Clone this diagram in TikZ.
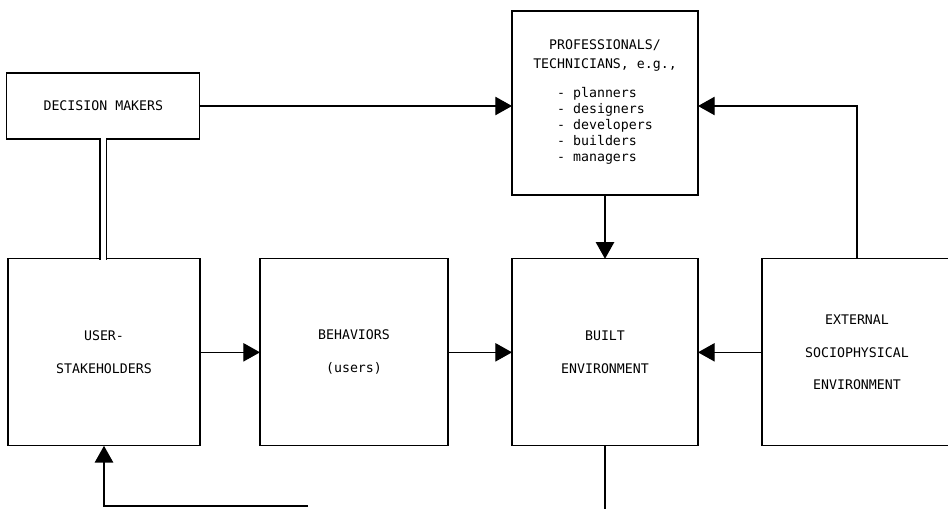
\documentclass[tikz,border=0pt]{standalone}
\usepackage{fontspec}
\setmonofont{DejaVu Sans Mono}
\usetikzlibrary{arrows.meta}

\begin{document}
\begin{tikzpicture}[
    b/.style={draw, line width=1.1pt, inner sep=0pt, outer sep=0pt, align=center,
              minimum height=5.61cm, font=\ttfamily\fontsize{11.3}{28}\selectfont},
    a/.style={-{Triangle[length=0.5cm,width=0.55cm]}, line width=1.1pt}]
    \useasboundingbox (0,0) rectangle (28.44,15.24);
    \node[b, minimum width=5.79cm, minimum height=1.98cm] (dm) at (3.1,12.06) {DECISION MAKERS};
    \node[b, minimum width=5.58cm, minimum height=5.52cm,
          font=\ttfamily\fontsize{11.3}{16}\selectfont] (prof) at (18.15,12.15)
          {PROFESSIONALS/\\TECHNICIANS, e.g.,\\[12pt]
           \fontsize{11.3}{13.6}\selectfont\begin{tabular}{@{}l@{}}- planners\\- designers\\- developers\\- builders\\- managers\end{tabular}};
    \node[b, minimum width=5.76cm] (user)  at (3.12,4.67)  {USER-\\STAKEHOLDERS};
    \node[b, minimum width=5.64cm] (beh)   at (10.62,4.67) {BEHAVIORS\\(users)};
    \node[b, minimum width=5.58cm] (built) at (18.15,4.67) {BUILT\\ENVIRONMENT};
    \node[b, minimum width=5.70cm] (ext)   at (25.71,4.67) {EXTERNAL\\SOCIOPHYSICAL\\ENVIRONMENT};
    \coordinate (fb) at (9.24,0.06);
    \draw[line width=1.1pt, double, double distance=0.17cm, shorten <=-1pt, shorten >=-1pt]
        (dm.south) -- (dm.south |- user.north);
    \draw[a] (dm.east) -- (prof.west |- dm.east);
    \draw[a] (ext.north) |- (prof.east |- dm.east);
    \draw[a] (prof) -- (built);
    \draw[a] (user) -- (beh);
    \draw[a] (beh) -- (built);
    \draw[a] (ext) -- (built);
    \draw[line width=1.1pt] (built.south) -- ++(0,-2);
    \draw[a] (fb) -| (user.south);
  \end{tikzpicture}
\end{document}
